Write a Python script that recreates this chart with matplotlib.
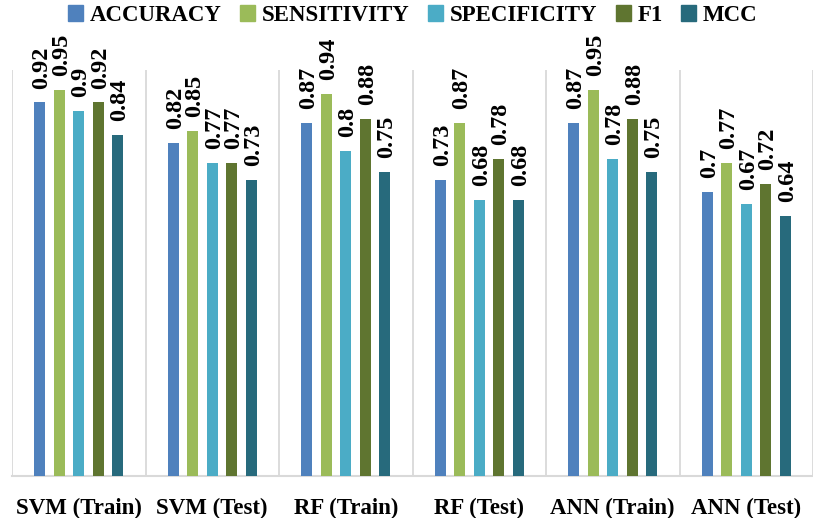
import matplotlib.pyplot as plt
import numpy as np
from matplotlib.patches import Patch

plt.rcParams['font.family'] = ['Liberation Serif', 'DejaVu Serif']
plt.rcParams['font.weight'] = 'bold'

models = ['SVM (Train)', 'SVM (Test)', 'RF (Train)', 'RF (Test)', 'ANN (Train)', 'ANN (Test)']
metrics = ['ACCURACY', 'SENSITIVITY', 'SPECIFICITY', 'F1', 'MCC']
accuracy = [0.92, 0.82, 0.87, 0.73, 0.87, 0.7]
sensitivity = [0.95, 0.85, 0.94, 0.87, 0.95, 0.77]
specificity = [0.9, 0.77, 0.8, 0.68, 0.78, 0.67]
f1 = [0.92, 0.77, 0.88, 0.78, 0.88, 0.72]
mcc = [0.84, 0.73, 0.75, 0.68, 0.75, 0.64]
series = [accuracy, sensitivity, specificity, f1, mcc]
colors = ['#4F81BD', '#9BBB59', '#4BACC6', '#5F7530', '#276A7C']

fig = plt.figure(figsize=(8.13, 5.18), dpi=100)
ax = fig.add_axes([12 / 813, 1 - 476 / 518, 801 / 813, 406 / 518])

x = np.arange(len(models))
step = 0.146
width = 0.082
for k, vals in enumerate(series):
    pos = x + (k - 2) * step
    ax.bar(pos, vals, width, color=colors[k], zorder=3)
    for xi, v in zip(pos, vals):
        ax.annotate(f'{v:g}', xy=(xi, v), xytext=(1.5, 10), textcoords='offset points',
                    rotation=90, ha='center', va='bottom', fontsize=17.5, fontweight='bold')

# separators between groups
for b in np.arange(len(models) + 1) - 0.5:
    ax.axvline(b, color='#d9d9d9', lw=1.3, zorder=1)

ax.set_xlim(-0.5, len(models) - 0.5)
ax.set_ylim(0, 1)
ax.set_yticks([])
ax.set_xticks(x)
ax.set_xticklabels(models, fontsize=16.5, fontweight='bold')
ax.tick_params(axis='x', length=0, pad=16)
for s in ['top', 'right', 'left']:
    ax.spines[s].set_visible(False)
ax.spines['bottom'].set_color('#d9d9d9')
ax.spines['bottom'].set_linewidth(1.5)

handles = [Patch(color=c, label=m) for c, m in zip(colors, metrics)]
fig.legend(handles=handles, loc='upper center', bbox_to_anchor=(0.508, 1.03), ncol=5,
           frameon=False, handlelength=0.65, handleheight=0.65,
           handletextpad=0.3, columnspacing=0.8, prop={'weight': 'bold', 'size': 16.5})

fig.savefig('out.png', dpi=100)
